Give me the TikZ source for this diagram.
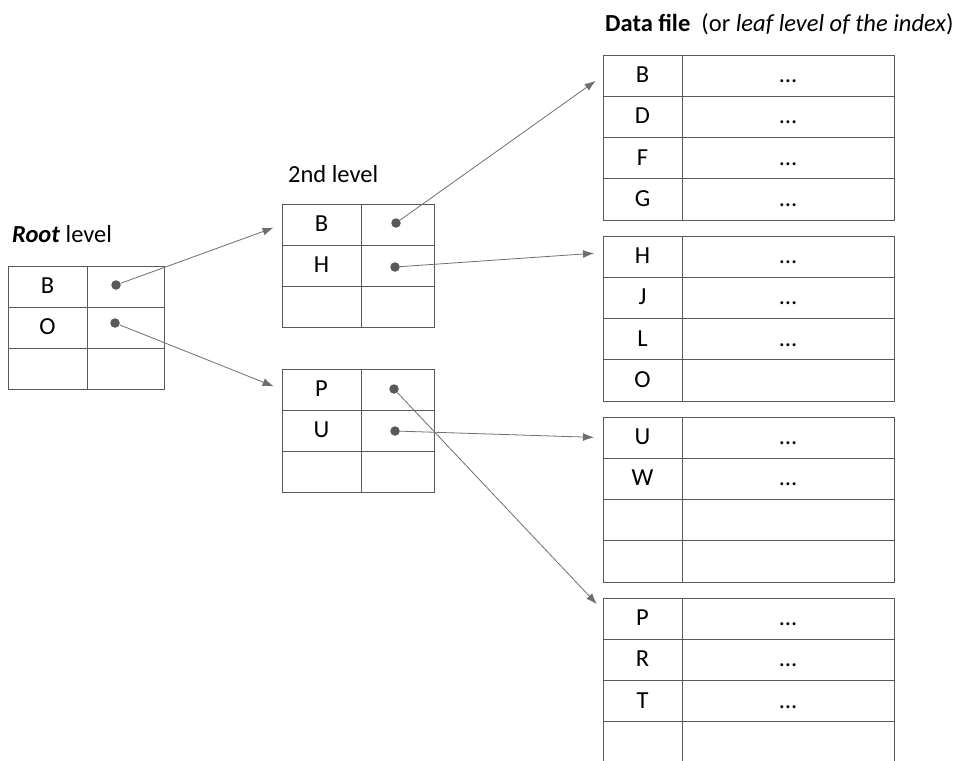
\documentclass[tikz,border=0pt]{standalone}
\usepackage{fontspec}
\setmainfont{Carlito}
\usetikzlibrary{arrows.meta,positioning,calc}
\definecolor{linegray}{HTML}{595959}
\definecolor{arrowgray}{HTML}{6E6E6E}

\begin{document}
\begin{tikzpicture}[x=1pt,y=-1pt,font=\fontsize{24.5}{29}\selectfont,
    cell/.style={draw=linegray, line width=0.9pt, inner sep=0pt, outer sep=0pt,
      minimum height=41.3pt, text height=18pt, text depth=4pt},
    keycell/.style={cell, minimum width=79pt},
    ptrcell/.style={cell, minimum width=73pt},
    valcell/.style={cell, minimum width=212pt},
    ptr/.style={circle, fill=linegray, inner sep=0pt, minimum size=9.5pt},
    link/.style={draw=arrowgray, line width=0.8pt, -{Latex[length=11pt,width=8pt]}, shorten >=9pt}]
        \useasboundingbox (0,0) rectangle (963,760);
        %labels
        \node[anchor=base west, inner sep=0pt] (rootlbl) at (12,242) {\textbf{\textit{Root}} level};
        \node[anchor=base west, inner sep=0pt] (lvl2lbl) at (288,182) {2nd level};
        \node[anchor=base west, inner sep=0pt] (datalbl) at (605,32) {\textbf{Data file}\ \ (or \textit{leaf level of the index})};
        %root level
        \node[keycell] (r1) at (47.5,286.65) {B};
        \node[ptrcell, minimum width=77pt, right=0pt of r1] (r1p) {};
        \node[keycell, below=0pt of r1] (r2) {O};
        \node[ptrcell, minimum width=77pt, right=0pt of r2] (r2p) {};
        \node[keycell, below=0pt of r2] (r3) {};
        \node[ptrcell, minimum width=77pt, right=0pt of r3] (r3p) {};
        %2nd level
        \node[keycell] (s1) at (321.5,224.65) {B};
        \node[ptrcell, right=0pt of s1] (s1p) {};
        \node[keycell, below=0pt of s1] (s2) {H};
        \node[ptrcell, right=0pt of s2] (s2p) {};
        \node[keycell, below=0pt of s2] (s3) {};
        \node[ptrcell, right=0pt of s3] (s3p) {};
        \node[keycell] (t1) at (321.5,389.65) {P};
        \node[ptrcell, right=0pt of t1] (t1p) {};
        \node[keycell, below=0pt of t1] (t2) {U};
        \node[ptrcell, right=0pt of t2] (t2p) {};
        \node[keycell, below=0pt of t2] (t3) {};
        \node[ptrcell, right=0pt of t3] (t3p) {};
        %data file
        \foreach \k/\v [count=\i] in {B/\dots, D/\dots, F/\dots, G/\dots} {
          \node[keycell] (da\i) at (642.5,{75.65+41.3*(\i-1)}) {\k};
          \node[valcell, right=0pt of da\i] (da\i v) {\v};
        }
        \foreach \k/\v [count=\i] in {H/\dots, J/\dots, L/\dots, O/{}} {
          \node[keycell] (db\i) at (642.5,{256.65+41.3*(\i-1)}) {\k};
          \node[valcell, right=0pt of db\i] (db\i v) {\v};
        }
        \foreach \k/\v [count=\i] in {U/\dots, W/\dots, {}/{}, {}/{}} {
          \node[keycell] (dc\i) at (642.5,{437.65+41.3*(\i-1)}) {\k};
          \node[valcell, right=0pt of dc\i] (dc\i v) {\v};
        }
        \foreach \k/\v [count=\i] in {P/\dots, R/\dots, T/\dots, {}/{}} {
          \node[keycell] (dd\i) at (642.5,{618.65+41.3*(\i-1)}) {\k};
          \node[valcell, right=0pt of dd\i] (dd\i v) {\v};
        }
        %pointers
        \node[ptr] (rb) at (116,285) {};
        \node[ptr] (ro) at (115,323) {};
        \node[ptr] (sb) at (396,223) {};
        \node[ptr] (sh) at (395,267) {};
        \node[ptr] (tp) at (394,389) {};
        \node[ptr] (tu) at (395,431) {};
        %edges
        \path[link] (rb) -- (s1.west);
        \path[link] (ro) -- (t1.west);
        \path[link] (sb) -- (da1.west);
        \path[link] (sh) -- ($(db1.west)+(0,-4)$);
        \path[link] (tu) -- (dc1.west);
        \path[link] (tp) -- ($(dd1.west)+(0,-8)$);
      \end{tikzpicture}
\end{document}
